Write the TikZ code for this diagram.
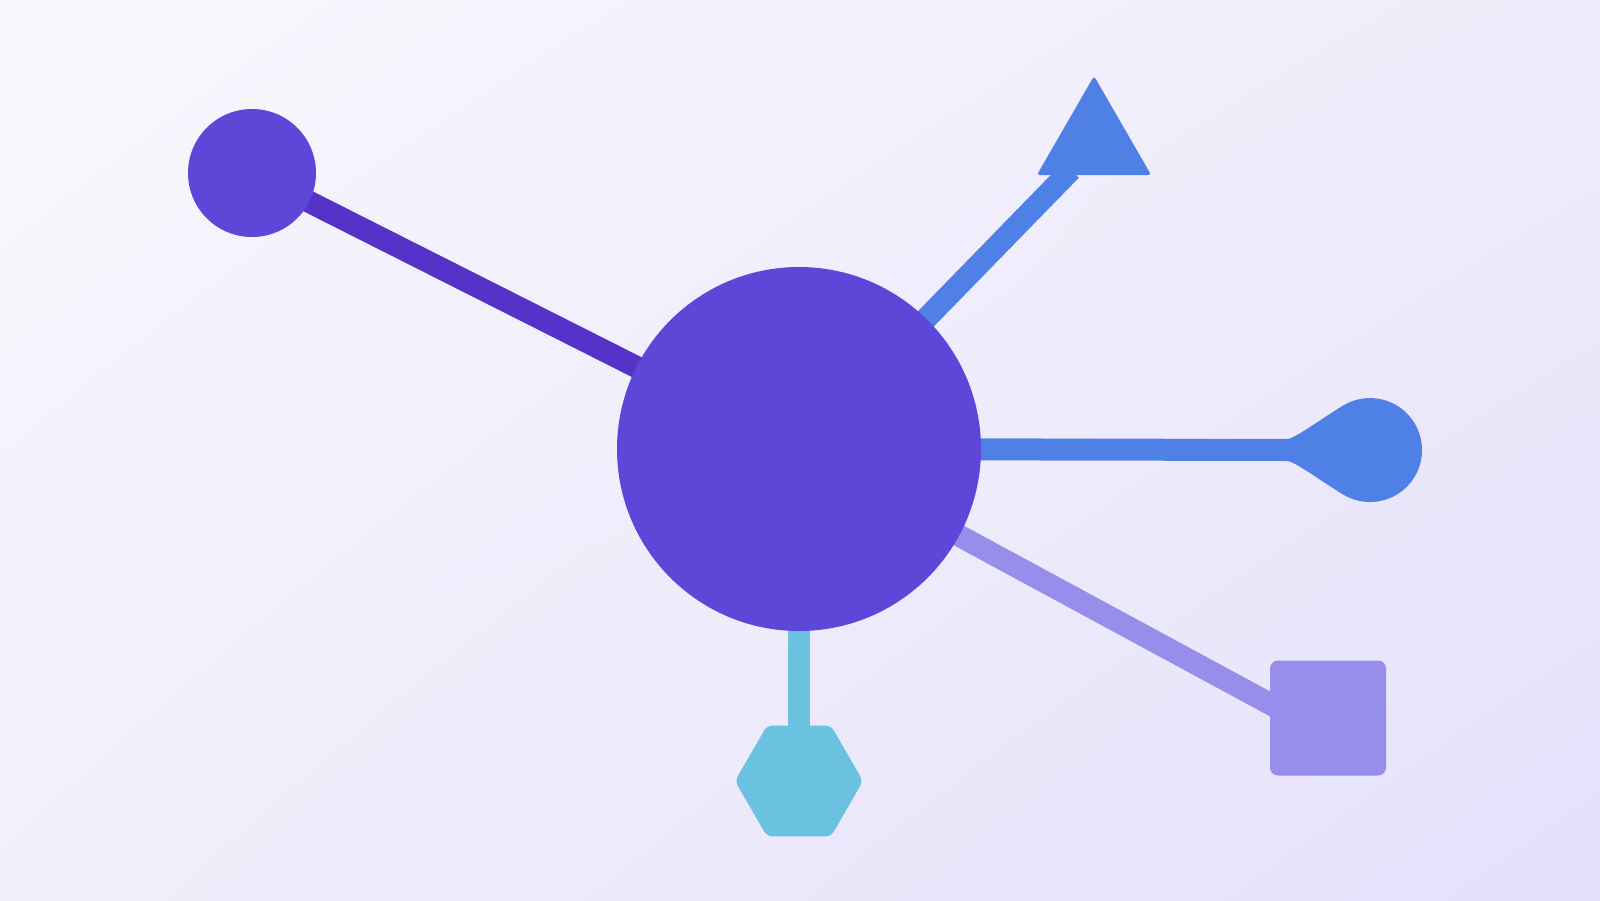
\documentclass[tikz,border=0pt]{standalone}
\usetikzlibrary{shapes.geometric,shadings}
\definecolor{hubc}{HTML}{5D47D8}
\definecolor{darkln}{HTML}{5532C8}
\definecolor{bluec}{HTML}{4F80E6}
\definecolor{hexc}{HTML}{6AC2E0}
\definecolor{sqc}{HTML}{978DEB}
\definecolor{bgA}{HTML}{F8F8FD}
\definecolor{bgB}{HTML}{EFECFB}
\definecolor{bgC}{HTML}{F1EFFB}
\definecolor{bgD}{HTML}{E5E0FB}
\tikzset{
  conn/.style={line width=22pt, line cap=butt},
  blob/.style={circle, inner sep=0pt, outer sep=0pt, draw=none},
  poly/.style={regular polygon, inner sep=0pt, outer sep=0pt, draw=none}
}
\begin{document}
\begin{tikzpicture}[x=1pt,y=-1pt]
\shade[upper left=bgA, upper right=bgB, lower left=bgC, lower right=bgD] (0,0) rectangle (1600,900);
\useasboundingbox (0,0) rectangle (1600,900);
% centres
\coordinate (hubc) at (799,449);
\coordinate (smc) at (252,173);
\coordinate (tric) at (1094,142);
\coordinate (triend) at (1071,170);
\coordinate (dropend) at (1292,450);
\coordinate (hexc) at (799,781);
\coordinate (hexend) at (799,760);
\coordinate (sqc) at (1328,718);
\coordinate (sqend) at (1285,712);
% connectors
\draw[conn, darkln] (smc) -- (hubc);
\draw[conn, bluec] (hubc) -- (triend);
\draw[conn, bluec] (hubc) -- (dropend);
\draw[conn, hexc] (hubc) -- (hexend);
\draw[conn, sqc] (hubc) -- (sqend);
% shapes
\node[blob, fill=hubc, minimum size=128pt] (small) at (smc) {};
\node[blob, fill=hubc, minimum size=364pt] (hub) at (hubc) {};
\node[poly, regular polygon sides=3, fill=bluec, minimum size=132pt, rounded corners=3pt] (tri) at (tric) {};
\node[poly, regular polygon sides=6, fill=hexc, minimum size=128pt, rounded corners=5pt] (hex) at (hexc) {};
\node[rectangle, fill=sqc, minimum width=116pt, minimum height=115pt, inner sep=0pt, rounded corners=8pt] (sq) at (sqc) {};
\fill[bluec] (1282,439) -- (1288,439)
  .. controls (1297,437) and (1321.6,418.6) .. (1343,405.6)
  arc[start angle=-121.3, end angle=121.3, radius=52]
  .. controls (1321.6,481.4) and (1297,463) .. (1288,461) -- (1282,461) -- cycle;
\end{tikzpicture}
\end{document}
